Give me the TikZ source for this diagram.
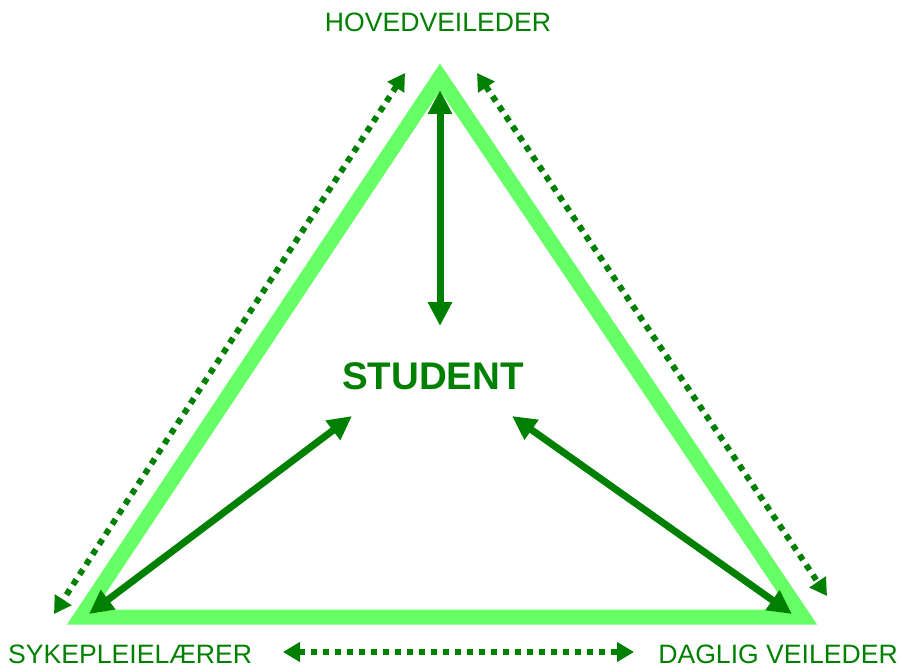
\documentclass[tikz,border=0pt]{standalone}
\usepackage{fontspec}
\setmainfont{Liberation Sans}
\usetikzlibrary{arrows.meta}
\definecolor{lightg}{HTML}{66FF66}
\definecolor{darkg}{HTML}{008000}
\begin{document}
\begin{tikzpicture}[x=1pt,y=-1pt,
  lbl/.style={text=darkg,font=\fontsize{26.6}{26.6}\selectfont,inner sep=0pt},
  solidarrow/.style={draw=darkg,line width=7pt,{Triangle[width=23pt,length=24pt]}-{Triangle[width=23pt,length=24pt]}},
  dotarrow/.style={draw=darkg,line width=6pt,dash pattern=on 6pt off 6pt,{Triangle[width=19pt,length=17pt]}-{Triangle[width=19pt,length=17pt]}}]
\useasboundingbox (0,0) rectangle (901,668);
% triangle corners
\coordinate (A) at (440,77);
\coordinate (B) at (81,617);
\coordinate (C) at (803,617);
\draw[lightg,line width=15pt,miter limit=10] (A) -- (B) -- (C) -- cycle;
% labels
\node[lbl] (hv) at (438,22) {HOVEDVEILEDER};
\node[lbl,anchor=west] (sk) at (8,654.5) {SYKEPLEIELÆRER};
\node[lbl,anchor=east] (dv) at (898,654.5) {DAGLIG VEILEDER};
\node[text=darkg,font=\bfseries\fontsize{38.5}{38.5}\selectfont,inner sep=0pt] (st) at (433,376) {STUDENT};
% solid arrows
\coordinate (v1) at (440,90);
\coordinate (v2) at (440,326);
\coordinate (l1) at (89,614);
\coordinate (l2) at (352,416);
\coordinate (r1) at (512,416);
\coordinate (r2) at (792,614);
\draw[solidarrow] (v1) -- (v2);
\draw[solidarrow] (l1) -- (l2);
\draw[solidarrow] (r1) -- (r2);
% dotted arrows
\coordinate (dl1) at (405,73);
\coordinate (dl2) at (54,614);
\coordinate (dr1) at (477,73);
\coordinate (dr2) at (827,596);
\coordinate (db1) at (283,652);
\coordinate (db2) at (634,652);
\draw[dotarrow] (dl1) -- (dl2);
\draw[dotarrow] (dr1) -- (dr2);
\draw[dotarrow] (db1) -- (db2);
\end{tikzpicture}
\end{document}
